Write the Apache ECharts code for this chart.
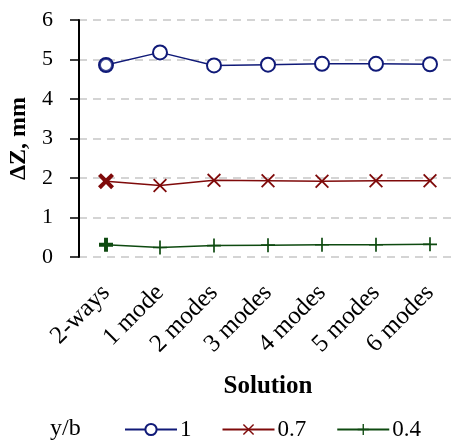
<!DOCTYPE html>
<html>
<head>
<meta charset="utf-8">
<script src="https://cdn.jsdelivr.net/npm/echarts@6/dist/echarts.min.js"></script>
<style>
  html, body { margin: 0; padding: 0; background: #fff; }
  #chart { width: 451px; height: 441px; }
</style>
</head>
<body>
<div id="chart"></div>
<script>
const categories = ["2-ways", "1 mode", "2 modes", "3 modes", "4 modes", "5 modes", "6 modes"];
const yTicks = [0, 1, 2, 3, 4, 5, 6];
const seriesNames = ["1", "0.7", "0.4"];
const values1 = [4.86, 5.18, 4.85, 4.87, 4.89, 4.89, 4.88];
const values07 = [1.92, 1.81, 1.94, 1.93, 1.92, 1.93, 1.93];
const values04 = [0.31, 0.24, 0.29, 0.30, 0.31, 0.31, 0.32];

const FONT = "Liberation Serif";
const BLUE = "#101a78";
const RED = "#7f0a0a";
const GREEN = "#0e4a10";

// filled shapes so they render without a stroke
const crossThin = "path://M0,9 L9,0 L50,41 L91,0 L100,9 L59,50 L100,91 L91,100 L50,59 L9,100 L0,91 L41,50 Z";
const crossBold = "path://M0,18 L18,0 L50,32 L82,0 L100,18 L68,50 L100,82 L82,100 L50,68 L18,100 L0,82 L32,50 Z";
const plusThin = "path://M44,0 H56 V44 H100 V56 H56 V100 H44 V56 H0 V44 H44 Z";
const plusBold = "path://M36,0 H64 V36 H100 V64 H64 V100 H36 V64 H0 V36 H36 Z";

function withFirst(vals, extra) {
  return vals.map((v, i) => (i === 0 ? Object.assign({ value: v }, extra) : v));
}

const chart = echarts.init(document.getElementById("chart"));
chart.setOption({
  animation: false,
  grid: { left: 79, top: 20, width: 378, height: 237, outerBoundsMode: "none", containLabel: false },
  xAxis: {
    type: "category",
    data: categories,
    boundaryGap: true,
    name: "Solution",
    nameLocation: "middle",
    nameGap: 117,
    nameTextStyle: { fontFamily: FONT, fontWeight: "bold", fontSize: 25, color: "#000" },
    axisLine: { show: false },
    axisTick: { show: false },
    axisLabel: { rotate: 45, margin: 32, fontFamily: FONT, fontSize: 25, color: "#000" },
    splitLine: { show: false },
  },
  yAxis: {
    type: "value",
    min: yTicks[0],
    max: yTicks[yTicks.length - 1],
    interval: 1,
    name: "ΔZ, mm",
    nameLocation: "middle",
    nameGap: 47,
    nameTextStyle: { fontFamily: FONT, fontWeight: "bold", fontSize: 24, color: "#000" },
    axisLine: { show: true, lineStyle: { color: "#000", width: 2 } },
    axisTick: { show: true, length: 9, lineStyle: { color: "#000", width: 1.5 } },
    axisLabel: { margin: 26, fontFamily: FONT, fontSize: 22, color: "#000" },
    splitLine: { show: true, lineStyle: { color: "#d4d4d4", width: 2, type: [8, 6] } },
  },
  legend: {
    left: 119,
    top: 413,
    itemWidth: 52,
    itemHeight: 14,
    itemGap: 30,
    textStyle: { fontFamily: FONT, fontSize: 23, color: "#000", padding: [0, 0, 0, -2] },
    data: seriesNames,
  },
  graphic: [
    { type: "text", left: 50, top: 417, style: { text: "y/b", font: "24px " + FONT, fill: "#000" } },
  ],
  series: [
    {
      name: seriesNames[0],
      type: "line",
      data: values1,
      symbol: "emptyCircle",
      symbolSize: 14,
      showAllSymbol: true,
      lineStyle: { color: BLUE, width: 1.5 },
      itemStyle: { color: BLUE, borderColor: BLUE, borderWidth: 2 },
    },
    {
      // heavier marker on the first point, as in the original
      name: "first-1",
      type: "scatter",
      data: [[categories[0], values1[0]]],
      symbol: "emptyCircle",
      symbolSize: 12,
      z: 5,
      itemStyle: { color: BLUE, borderColor: BLUE, borderWidth: 4 },
    },
    {
      name: seriesNames[1],
      type: "line",
      data: withFirst(values07, { symbol: crossBold, symbolSize: 16 }),
      symbol: crossThin,
      symbolSize: 14,
      showAllSymbol: true,
      lineStyle: { color: RED, width: 1.5 },
      itemStyle: { color: RED, borderWidth: 0 },
    },
    {
      name: seriesNames[2],
      type: "line",
      data: withFirst(values04, { symbol: plusBold, symbolSize: 14 }),
      symbol: plusThin,
      symbolSize: 14,
      showAllSymbol: true,
      lineStyle: { color: GREEN, width: 1.5 },
      itemStyle: { color: GREEN, borderWidth: 0 },
    },
  ],
});
</script>
</body>
</html>
